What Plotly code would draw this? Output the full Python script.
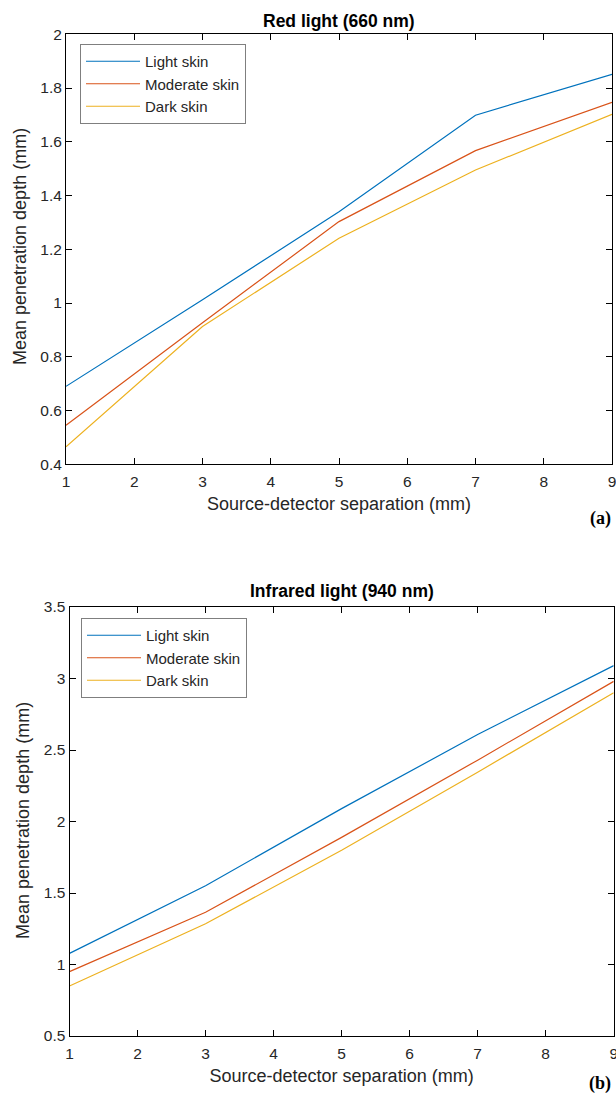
import plotly.graph_objects as go

# ---- data ----
separation = [1, 3, 5, 7, 9]
series_names = ["Light skin", "Moderate skin", "Dark skin"]
colors = ["#0072BD", "#D95319", "#EDB120"]

red_light = [0.69, 1.012, 1.34, 1.699, 1.851]
red_moderate = [0.545, 0.927, 1.303, 1.567, 1.747]
red_dark = [0.465, 0.913, 1.241, 1.495, 1.702]

ir_light = [1.078, 1.551, 2.09, 2.608, 3.09]
ir_moderate = [0.95, 1.365, 1.889, 2.429, 2.98]
ir_dark = [0.85, 1.285, 1.799, 2.345, 2.90]

x_title = "Source-detector separation (mm)"
y_title = "Mean penetration depth (mm)"

W, H = 616, 1095
FONT = "Liberation Sans, Arial, sans-serif"
TXT = "#262626"

fig = go.Figure()

for name, ys, c in zip(series_names, [red_light, red_moderate, red_dark], colors):
    fig.add_trace(go.Scatter(x=separation, y=ys, mode="lines", name=name,
                             line=dict(color=c, width=1.2), xaxis="x", yaxis="y",
                             legend="legend"))
for name, ys, c in zip(series_names, [ir_light, ir_moderate, ir_dark], colors):
    fig.add_trace(go.Scatter(x=separation, y=ys, mode="lines", name=name,
                             line=dict(color=c, width=1.2), xaxis="x2", yaxis="y2",
                             legend="legend2"))

def px_x(p):
    return p / W

def px_y(p):
    return 1 - p / H

axis_common = dict(showgrid=False, zeroline=False, showline=True, linecolor="black",
                   linewidth=1, mirror="ticks", ticks="inside", ticklen=6,
                   tickcolor="black", tickwidth=1,
                   tickfont=dict(family=FONT, size=15.5, color=TXT),
                   ticklabeloverflow="allow",
                   automargin=False)
title_font = dict(family=FONT, size=18, color=TXT)
legend_common = dict(xanchor="left", yanchor="top",
                     bgcolor="white", bordercolor="#7f7f7f", borderwidth=1,
                     font=dict(family=FONT, size=15, color=TXT),
                     tracegroupgap=0, itemwidth=54)

fig.update_layout(
    width=W, height=H,
    margin=dict(l=0, r=0, t=0, b=0),
    paper_bgcolor="white", plot_bgcolor="white",
    font=dict(family=FONT, color=TXT),
    xaxis=dict(domain=[px_x(66), px_x(612)], anchor="y", range=[1, 9], dtick=1, tick0=1,
               ticklabelstandoff=3,
               title=dict(text=x_title, font=title_font, standoff=8),
               **axis_common),
    yaxis=dict(domain=[px_y(464.3), px_y(34.3)], anchor="x", range=[0.4, 2.0], dtick=0.2, tick0=0.4,
               **axis_common),
    xaxis2=dict(domain=[px_x(69.5), px_x(613.7)], anchor="y2", range=[1, 9], dtick=1, tick0=1,
                ticklabelstandoff=3,
                title=dict(text=x_title, font=title_font, standoff=8),
                **axis_common),
    yaxis2=dict(domain=[px_y(1036), px_y(607)], anchor="x2", range=[0.5, 3.5], dtick=0.5, tick0=0.5,
                **axis_common),
    legend=dict(x=px_x(80), y=px_y(44), **legend_common),
    legend2=dict(x=px_x(81), y=px_y(618), **legend_common),
    showlegend=True,
)

# y-axis titles (rotated)
fig.add_annotation(text=y_title, x=px_x(20), y=px_y(247), xref="paper", yref="paper",
                   showarrow=False, textangle=-90, xanchor="center", yanchor="middle",
                   font=title_font)
fig.add_annotation(text=y_title, x=px_x(23), y=px_y(821), xref="paper", yref="paper",
                   showarrow=False, textangle=-90, xanchor="center", yanchor="middle",
                   font=title_font)

fig.add_annotation(text="<b>Red light (660 nm)</b>", x=(px_x(66) + px_x(612)) / 2, y=px_y(21),
                   xref="paper", yref="paper", showarrow=False, xanchor="center", yanchor="middle",
                   font=dict(family=FONT, size=17.5, color="black"))
fig.add_annotation(text="<b>Infrared light (940 nm)</b>", x=(px_x(69.5) + px_x(613.7)) / 2, y=px_y(591),
                   xref="paper", yref="paper", showarrow=False, xanchor="center", yanchor="middle",
                   font=dict(family=FONT, size=17.5, color="black"))
fig.add_annotation(text="<b>(a)</b>", x=px_x(613), y=px_y(518), xref="paper", yref="paper",
                   showarrow=False, xanchor="right", yanchor="middle",
                   font=dict(family="Liberation Serif, Times New Roman, serif", size=18, color="black"))
fig.add_annotation(text="<b>(b)</b>", x=px_x(613), y=px_y(1083), xref="paper", yref="paper",
                   showarrow=False, xanchor="right", yanchor="middle",
                   font=dict(family="Liberation Serif, Times New Roman, serif", size=18, color="black"))

fig.write_html("out.html", config={"displayModeBar": False},
               post_script="document.body.style.margin='0px';document.body.style.overflow='hidden';")
